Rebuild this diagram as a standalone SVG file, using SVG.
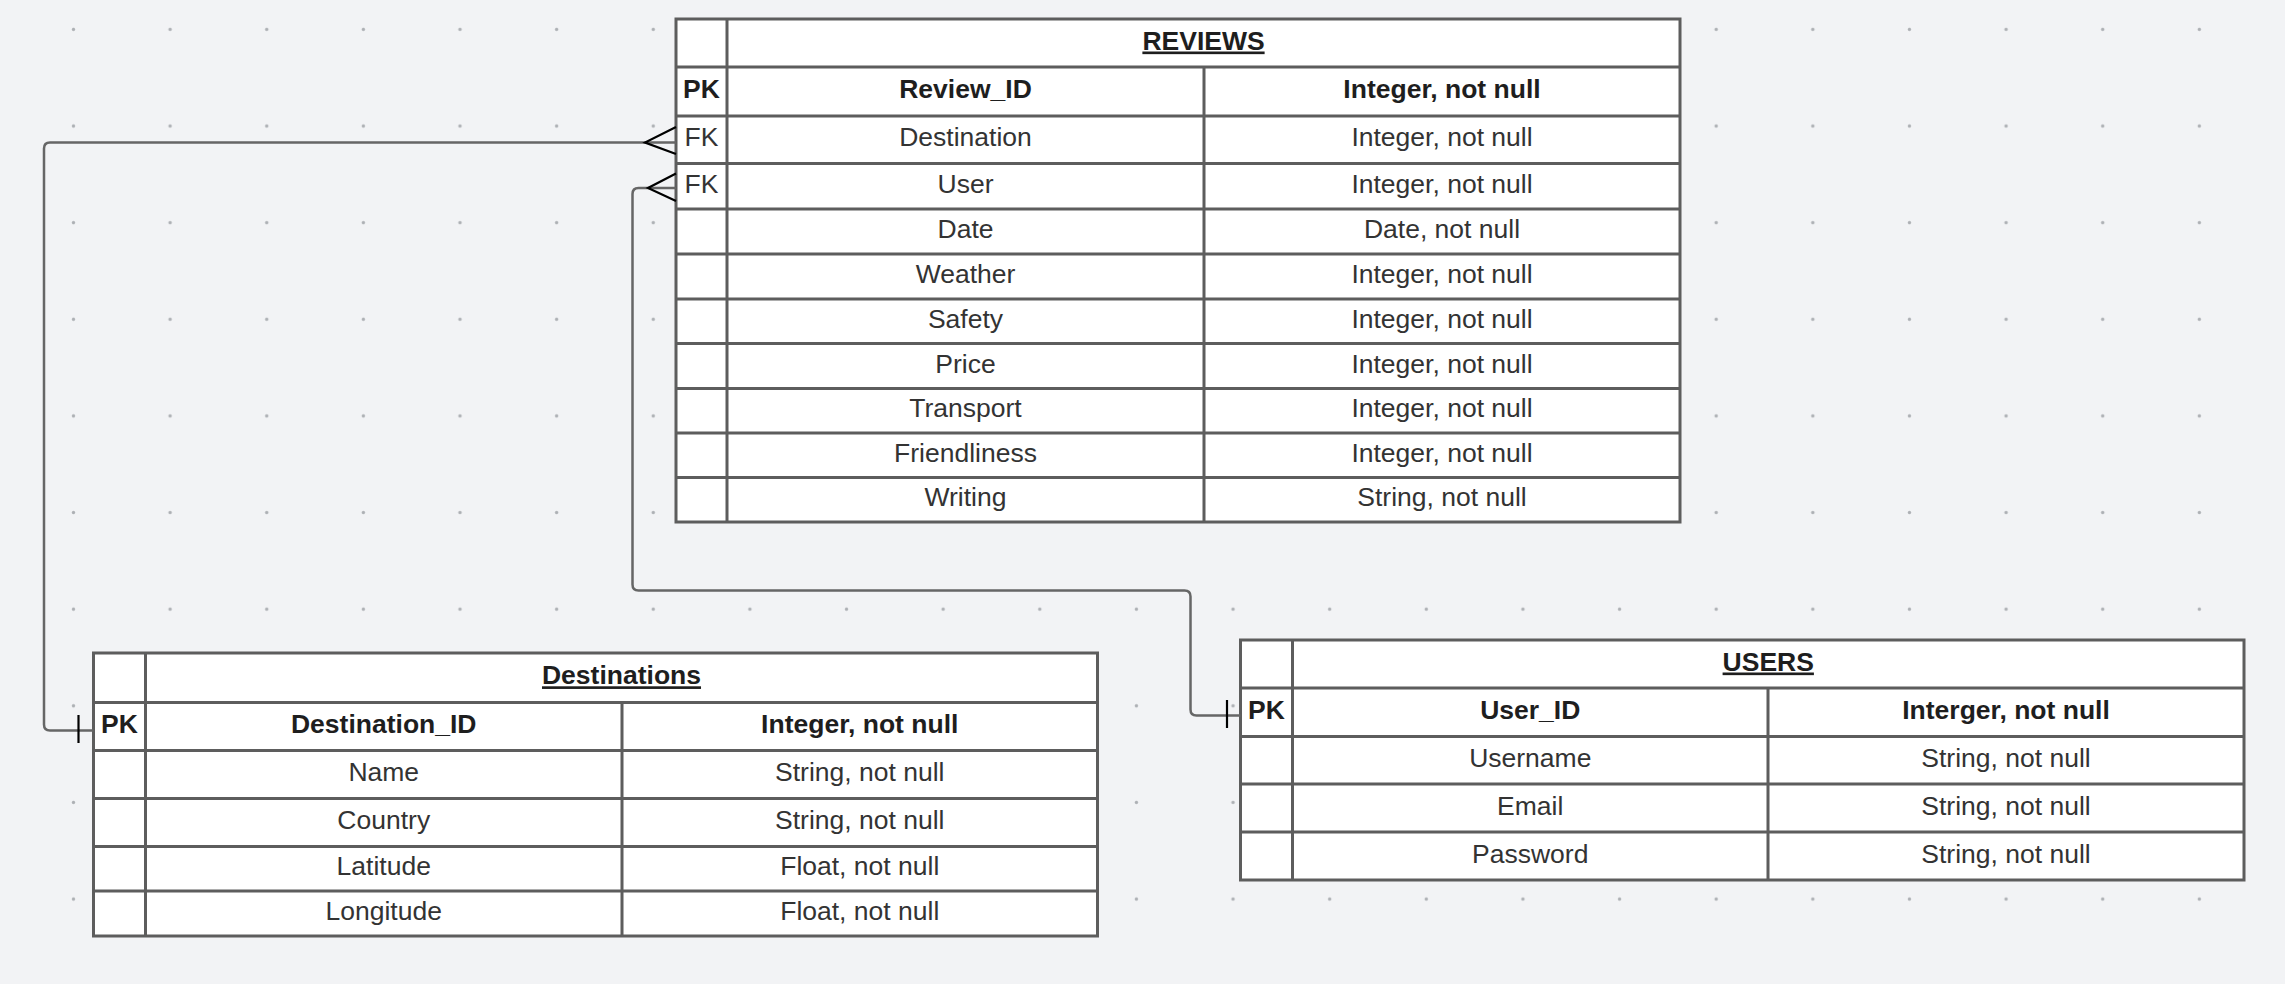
<svg xmlns="http://www.w3.org/2000/svg" width="2285" height="984" viewBox="0 0 2285 984">
<defs>
<style>
.tb{fill:#ffffff;stroke:#5d5d5d;stroke-width:3}
.ln{stroke:#5d5d5d;stroke-width:3;fill:none}
.t{font-family:"Liberation Sans",Arial,sans-serif;font-size:26.5px;fill:#333333;text-anchor:middle}
.b{font-weight:bold;fill:#1e1e1e}
.u{text-decoration:underline}
.conn{fill:none;stroke:#666666;stroke-width:2.5}
.cf{fill:none;stroke:#000000;stroke-width:2.2}
</style>
<pattern id="dots" patternUnits="userSpaceOnUse" x="25.18" y="-18.92" width="96.63" height="96.63">
<circle cx="48.315" cy="48.315" r="1.7" fill="#adb0b4"/>
</pattern>
</defs>
<rect x="0" y="0" width="2285" height="984" fill="#f2f3f5"/>
<rect x="0" y="0" width="2285" height="984" fill="url(#dots)"/>

<g id="reviews">
<rect class="tb" x="676" y="19" width="1004" height="503"/>
<path class="ln" d="M727 19V522M1204 67V522M676 67H1680M676 116H1680M676 163.5H1680M676 209H1680M676 254H1680M676 299H1680M676 343.5H1680M676 388.5H1680M676 433H1680M676 477.5H1680"/>
<text class="t b u" x="1203.5" y="49.5">REVIEWS</text>
<text class="t b" x="701.5" y="98">PK</text>
<text class="t b" x="965.5" y="98">Review_ID</text>
<text class="t b" x="1442" y="98">Integer, not null</text>
<text class="t" x="701.5" y="146.3">FK</text>
<text class="t" x="965.5" y="146.3">Destination</text>
<text class="t" x="1442" y="146.3">Integer, not null</text>
<text class="t" x="701.5" y="192.8">FK</text>
<text class="t" x="965.5" y="192.8">User</text>
<text class="t" x="1442" y="192.8">Integer, not null</text>
<text class="t" x="965.5" y="238">Date</text>
<text class="t" x="1442" y="238">Date, not null</text>
<text class="t" x="965.5" y="283">Weather</text>
<text class="t" x="1442" y="283">Integer, not null</text>
<text class="t" x="965.5" y="327.8">Safety</text>
<text class="t" x="1442" y="327.8">Integer, not null</text>
<text class="t" x="965.5" y="372.5">Price</text>
<text class="t" x="1442" y="372.5">Integer, not null</text>
<text class="t" x="965.5" y="417.3">Transport</text>
<text class="t" x="1442" y="417.3">Integer, not null</text>
<text class="t" x="965.5" y="461.8">Friendliness</text>
<text class="t" x="1442" y="461.8">Integer, not null</text>
<text class="t" x="965.5" y="506.3">Writing</text>
<text class="t" x="1442" y="506.3">String, not null</text>
</g>

<g id="destinations">
<rect class="tb" x="93.5" y="653" width="1004" height="283"/>
<path class="ln" d="M145.5 653V936M622 702.5V936M93.5 702.5H1097.5M93.5 750.5H1097.5M93.5 798.5H1097.5M93.5 846.5H1097.5M93.5 891H1097.5"/>
<text class="t b u" x="621.5" y="684.3">Destinations</text>
<text class="t b" x="119.5" y="733">PK</text>
<text class="t b" x="383.75" y="733">Destination_ID</text>
<text class="t b" x="859.75" y="733">Integer, not null</text>
<text class="t" x="383.75" y="781">Name</text>
<text class="t" x="859.75" y="781">String, not null</text>
<text class="t" x="383.75" y="829">Country</text>
<text class="t" x="859.75" y="829">String, not null</text>
<text class="t" x="383.75" y="875.3">Latitude</text>
<text class="t" x="859.75" y="875.3">Float, not null</text>
<text class="t" x="383.75" y="920">Longitude</text>
<text class="t" x="859.75" y="920">Float, not null</text>
</g>

<g id="users">
<rect class="tb" x="1240.5" y="640" width="1003.5" height="240"/>
<path class="ln" d="M1292.5 640V880M1768 688V880M1240.5 688H2244M1240.5 736.5H2244M1240.5 784H2244M1240.5 832H2244"/>
<text class="t b u" x="1768.25" y="670.5">USERS</text>
<text class="t b" x="1266.5" y="718.8">PK</text>
<text class="t b" x="1530.25" y="718.8">User_ID</text>
<text class="t b" x="2006" y="718.8">Interger, not null</text>
<text class="t" x="1530.25" y="766.8">Username</text>
<text class="t" x="2006" y="766.8">String, not null</text>
<text class="t" x="1530.25" y="814.5">Email</text>
<text class="t" x="2006" y="814.5">String, not null</text>
<text class="t" x="1530.25" y="862.5">Password</text>
<text class="t" x="2006" y="862.5">String, not null</text>
</g>

<g id="connectors">
<g id="reviews-destinations">
<path class="conn" d="M676 142.5H50Q44 142.5 44 148.5V724.5Q44 730.5 50 730.5H93.5"/>
<polyline class="cf" points="676,127 645,142.5 676,154"/>
<line class="cf" x1="78.5" y1="715" x2="78.5" y2="743"/>
</g>
<g id="reviews-users">
<path class="conn" d="M676 188H638.5Q632.5 188 632.5 194V584.5Q632.5 590.5 638.5 590.5H1184.5Q1190.5 590.5 1190.5 596.5V709.5Q1190.5 715.5 1196.5 715.5H1240.5"/>
<polyline class="cf" points="676,173.5 648,188 676,201"/>
<line class="cf" x1="1227" y1="700" x2="1227" y2="728"/>
</g>
</g>
</svg>
